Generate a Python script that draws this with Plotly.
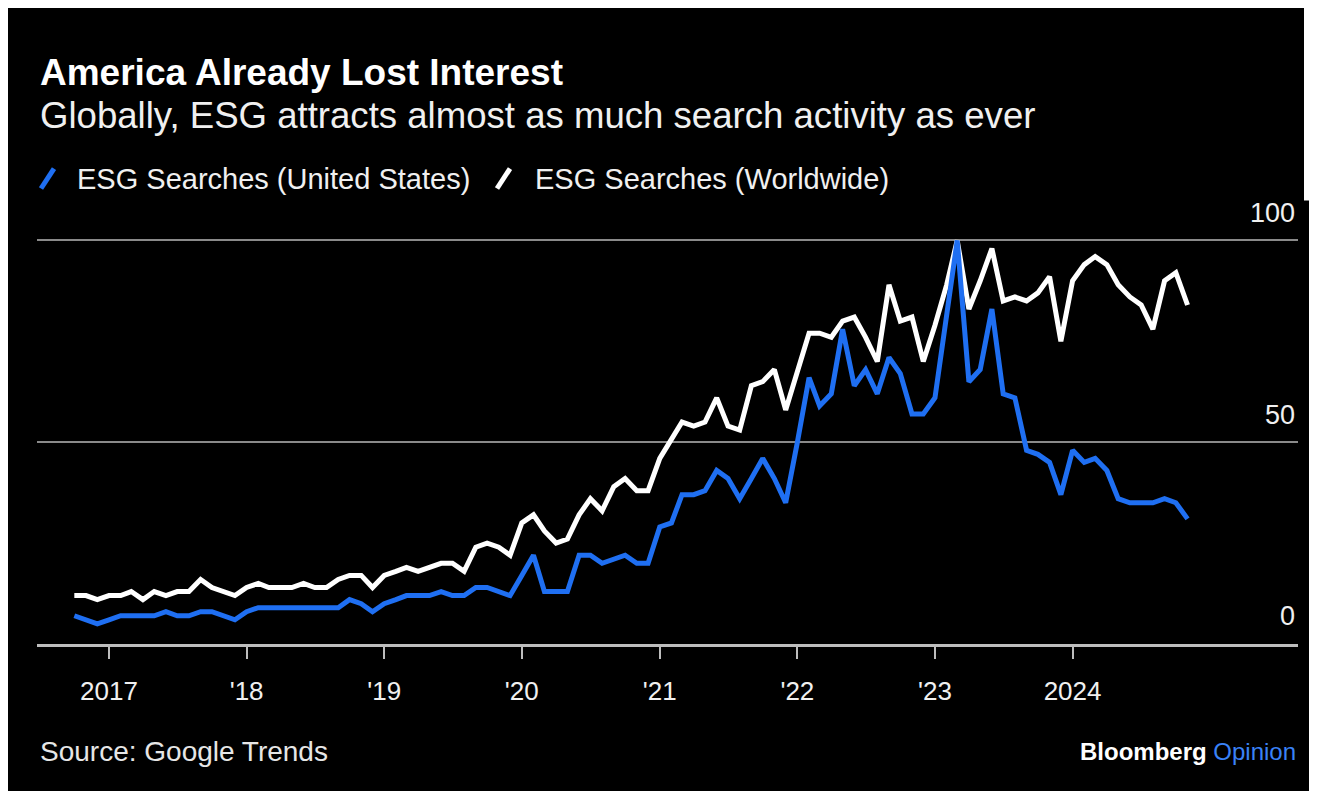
import plotly.graph_objects as go
import pandas as pd

# ---- data (monthly Google Trends index) ----
months = pd.date_range("2016-10-01", "2024-11-01", freq="MS")

us_searches = [
    7, 6, 5,
    6, 7, 7, 7, 7, 8, 7, 7, 8, 8, 7, 6,
    8, 9, 9, 9, 9, 9, 9, 9, 9, 11, 10, 8,
    10, 11, 12, 12, 12, 13, 12, 12, 14, 14, 13, 12,
    17, 22, 13, 13, 13, 22, 22, 20, 21, 22, 20, 20,
    29, 30, 37, 37, 38, 43, 41, 36, 41, 46, 41, 35,
    50, 66, 59, 62, 78, 64, 68, 62, 71, 67, 57, 57,
    61, 82, 100, 65, 68, 83, 62, 61, 48, 47, 45, 37,
    48, 45, 46, 43, 36, 35, 35, 35, 36, 35, 31,
]

world_searches = [
    12, 12, 11,
    12, 12, 13, 11, 13, 12, 13, 13, 16, 14, 13, 12,
    14, 15, 14, 14, 14, 15, 14, 14, 16, 17, 17, 14,
    17, 18, 19, 18, 19, 20, 20, 18, 24, 25, 24, 22,
    30, 32, 28, 25, 26, 32, 36, 33, 39, 41, 38, 38,
    46, 51, 55, 54, 55, 61, 54, 53, 64, 65, 68, 58,
    67, 77, 77, 76, 80, 81, 76, 70, 89, 80, 81, 70,
    79, 89, 100, 83, 90, 98, 85, 86, 85, 87, 91, 75,
    90, 94, 96, 94, 89, 86, 84, 78, 90, 92, 84,
]

year_ticks = ["2017-01-01", "2018-01-01", "2019-01-01", "2020-01-01",
              "2021-01-01", "2022-01-01", "2023-01-01", "2024-01-01"]
year_labels = ["2017", "'18", "'19", "'20", "'21", "'22", "'23", "2024"]
y_ticks = [0, 50, 100]

series_names = ["ESG Searches (United States)", "ESG Searches (Worldwide)"]
BLUE = "#1f6ff2"
WHITE = "#ffffff"
FONT = "Liberation Sans, Arial, sans-serif"

# ---- layout geometry (figure sits 8px in from the page corner) ----
W, H = 1340, 791
OFF = 8
# plot area in screen pixels: x 37..1298, y 191.5..644 (y range 0..112)
L = 37 - OFF
R = (W + OFF) - 1298
T = 191.5 - OFF
B = (H + OFF) - 644 - OFF * 0  # bottom edge of figure in screen coords is H+OFF
B = (H + OFF) - 644
pw = W - L - R
ph = H - T - B


def fx(px):
    """screen x pixel -> paper coordinate"""
    return (px - OFF - L) / pw


def fy(py):
    """screen y pixel -> paper coordinate"""
    return (H - B - (py - OFF)) / ph


fig = go.Figure()
fig.add_trace(go.Scatter(x=months, y=world_searches, mode="lines",
                         name=series_names[1],
                         line=dict(color=WHITE, width=5),
                         showlegend=False, hoverinfo="x+y"))
fig.add_trace(go.Scatter(x=months, y=us_searches, mode="lines",
                         name=series_names[0],
                         line=dict(color=BLUE, width=5),
                         showlegend=False, hoverinfo="x+y"))

shapes = []
# legend slashes
for (x0, col) in [(41, BLUE), (497, WHITE)]:
    shapes.append(dict(type="line", xref="paper", yref="paper",
                       x0=fx(x0), y0=fy(188), x1=fx(x0 + 13), y1=fy(168),
                       line=dict(color=col, width=5)))
# white strip at the top-right edge of the screenshot
shapes.append(dict(type="rect", xref="paper", yref="paper",
                   x0=fx(1304), x1=fx(1340), y0=fy(200), y1=fy(0),
                   fillcolor="white", line=dict(width=0), layer="above"))

annotations = [
    dict(text="<b>America Already Lost Interest</b>", x=fx(38), y=fy(72),
         font=dict(size=37, color="#ffffff", family=FONT)),
    dict(text="Globally, ESG attracts almost as much search activity as ever",
         x=fx(38), y=fy(115), font=dict(size=36.6, color="#f0f0f0", family=FONT)),
    dict(text=series_names[0], x=fx(75), y=fy(178),
         font=dict(size=29, color="#f0f0f0", family=FONT)),
    dict(text=series_names[1], x=fx(533), y=fy(178),
         font=dict(size=29, color="#f0f0f0", family=FONT)),
    dict(text="Source: Google Trends", x=fx(38), y=fy(752),
         font=dict(size=28, color="#e6e6e6", family=FONT)),
    dict(text="<b>Bloomberg</b> <span style='color:#3a82f7'>Opinion</span>",
         x=fx(1298), y=fy(752), xanchor="right",
         font=dict(size=24, color="#ffffff", family=FONT)),
]
for a in annotations:
    a.setdefault("xanchor", "left")
    a.update(xref="paper", yref="paper", yanchor="middle", showarrow=False)

fig.update_layout(
    width=W, height=H,
    margin=dict(l=L, r=R, t=T, b=B, pad=0),
    paper_bgcolor="#000000", plot_bgcolor="#000000",
    font=dict(family=FONT, color="#f0f0f0"),
    shapes=shapes, annotations=annotations,
    showlegend=False,
)
fig.update_xaxes(
    type="date", range=["2016-06-24", "2025-08-21"],
    tickvals=year_ticks, ticktext=year_labels,
    showgrid=False, zeroline=False,
    showline=True, linecolor="#bdbdbd", linewidth=2.5,
    ticks="outside", ticklen=12, tickwidth=2, tickcolor="#bdbdbd",
    tickfont=dict(size=26, color="#f0f0f0", family=FONT),
    ticklabelstandoff=10,
)
fig.update_yaxes(
    range=[0, 112], tickvals=y_ticks, ticktext=[str(v) for v in y_ticks],
    side="right", ticklabelposition="inside", ticklabelshift=-28,
    showgrid=True, gridcolor="#8a8a8a", gridwidth=1.6,
    zeroline=False, showline=False, ticks="",
    tickfont=dict(size=27, color="#f0f0f0", family=FONT),
)

fig.write_html("out.html")
